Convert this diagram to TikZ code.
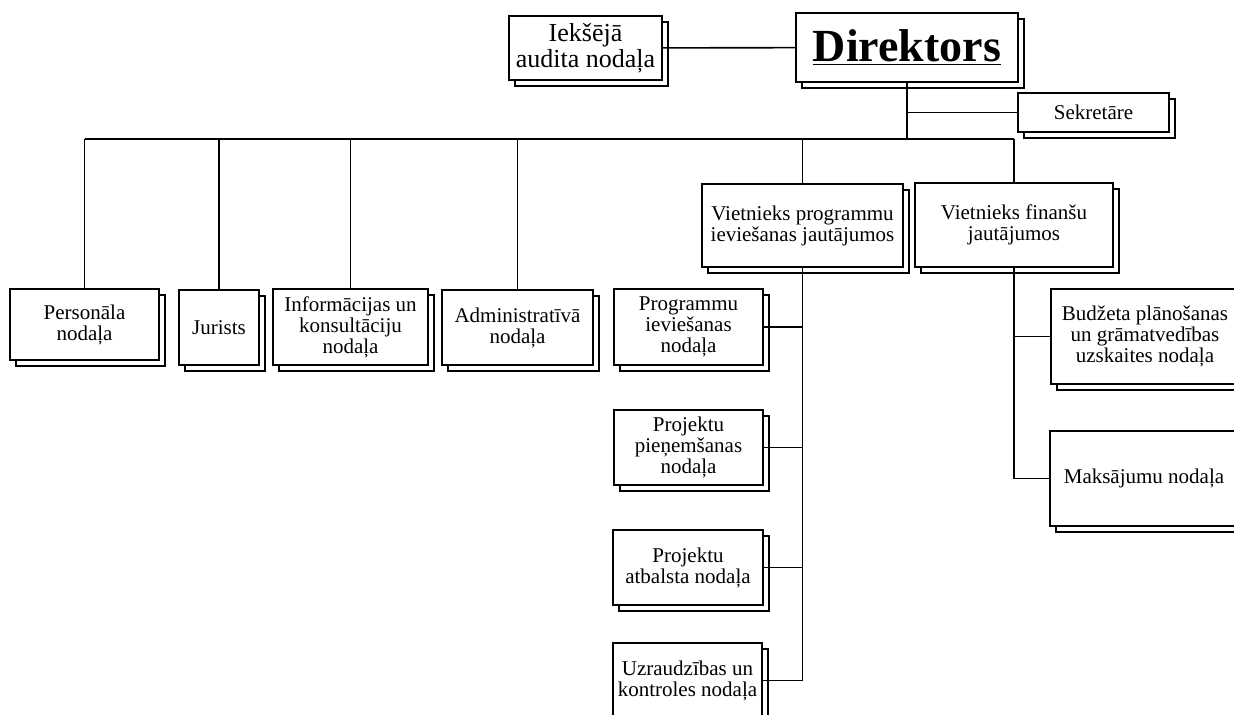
\documentclass[tikz,border=0pt]{standalone}
\usepackage{fontspec}
\setmainfont{Liberation Serif}
\usetikzlibrary{shadows}

\begin{document}
\begin{tikzpicture}[x=0.5pt,y=-0.5pt,
  unit/.style={draw,fill=white,line width=0.75pt,inner sep=0pt,align=center,
    font=\fontsize{10.5}{10.5}\selectfont,
    general shadow={shadow xshift=3pt,shadow yshift=-3pt,draw,fill=white,line width=1pt}},
  link/.style={line width=0.8pt}]
\useasboundingbox (0,0) rectangle (1234,715);
\coordinate (bus) at (0,139);
\node[unit,minimum width=76.5pt,minimum height=32pt,font=\fontsize{13}{11.5}\selectfont] (audit) at (585.5,48) {Iekšējā\\audita nodaļa};
\node[unit,minimum width=111pt,minimum height=34.5pt,font=\fontsize{23}{23}\selectfont] (dir) at (907,47.5) {\textbf{\underline{Direktors}}};
\node[unit,minimum width=75.5pt,minimum height=19.5pt] (sek) at (1093.5,112.5) {Sekretāre};
\draw[link] (audit) -- (dir);
\draw[link] (dir.south) -- (dir.south |- bus);
\draw[link] (sek.west) -- (sek.west -| dir.south);

\node[unit,minimum width=74.5pt,minimum height=35.5pt] (pers) at (84.5,324.5) {Personāla\\nodaļa};
\node[unit,minimum width=40pt,minimum height=37.5pt] (jur) at (219,327.5) {Jurists};
\node[unit,minimum width=77.5pt,minimum height=38pt] (info) at (350.5,327) {Informācijas un\\konsultāciju\\nodaļa};
\node[unit,minimum width=75.5pt,minimum height=37.5pt] (adm) at (517.5,327.5) {Administratīvā\\nodaļa};
\node[unit,minimum width=100.5pt,minimum height=41.5pt] (vprog) at (802.5,225.5) {Vietnieks programmu\\ieviešanas jautājumos};
\node[unit,minimum width=99pt,minimum height=42pt] (vfin) at (1014,225) {Vietnieks finanšu\\jautājumos};
\draw[line width=1.3pt] (pers.north |- bus) -- (vfin.north |- bus);
\draw[link] (pers.north) -- (pers.north |- bus);
\draw[link] (jur.north) -- (jur.north |- bus);
\draw[link] (info.north) -- (info.north |- bus);
\draw[link] (adm.north) -- (adm.north |- bus);
\draw[link] (vprog.north) -- (vprog.north |- bus);
\draw[link] (vfin.north) -- (vfin.north |- bus);

\node[unit,minimum width=74.5pt,minimum height=38pt] (prog) at (688.5,327) {Programmu\\ieviešanas\\nodaļa};
\node[unit,minimum width=74.5pt,minimum height=37.5pt] (pien) at (688.5,447.5) {Projektu\\pieņemšanas\\nodaļa};
\node[unit,minimum width=75pt,minimum height=37.5pt] (atb) at (688,567.5) {Projektu\\atbalsta nodaļa};
\node[unit,minimum width=74.5pt,minimum height=37.5pt] (uzr) at (687.5,680.5) {Uzraudzības un\\kontroles nodaļa};
\draw[link] (vprog.south) -- (vprog.south |- uzr.east) -- (uzr.east);
\draw[link] (prog.east) -- (prog.east -| vprog.south);
\draw[link] (pien.east) -- (pien.east -| vprog.south);
\draw[link] (atb.east) -- (atb.east -| vprog.south);

\node[unit,minimum width=94pt,minimum height=47.5pt] (budz) at (1145,336.5) {Budžeta plānošanas\\un grāmatvedības\\uzskaites nodaļa};
\node[unit,minimum width=94pt,minimum height=47.5pt] (maks) at (1144,478.5) {Maksājumu nodaļa};
\draw[link] (vfin.south) -- (vfin.south |- maks.west) -- (maks.west);
\draw[link] (budz.west) -- (budz.west -| vfin.south);
\end{tikzpicture}
\end{document}
